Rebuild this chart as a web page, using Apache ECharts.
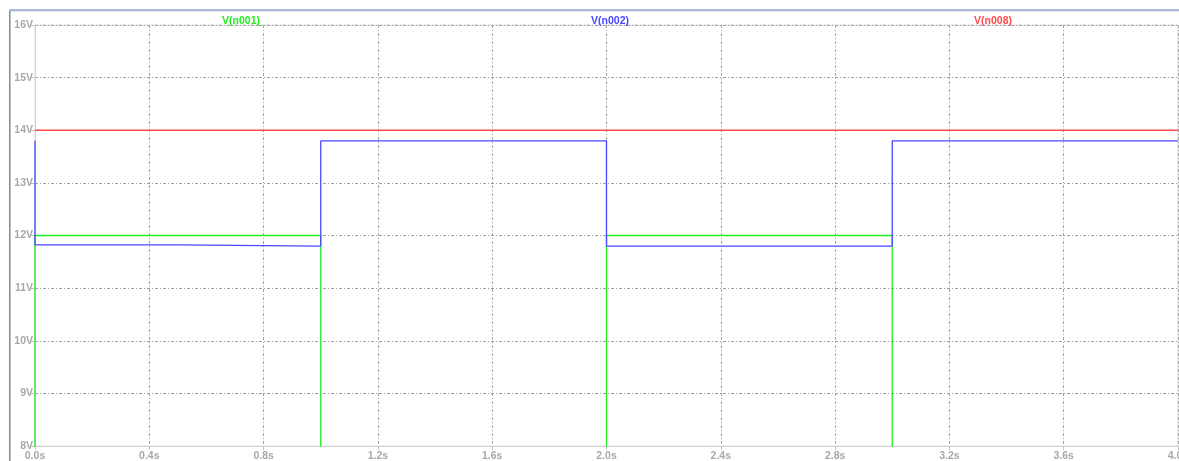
<!DOCTYPE html>
<html>
<head>
<meta charset="utf-8">
<script src="https://cdn.jsdelivr.net/npm/echarts@6/dist/echarts.min.js"></script>
<style>
html,body{margin:0;padding:0;background:#fff;}
#c{width:1179px;height:461px;}
</style>
</head>
<body>
<div id="c"></div>
<script>
// Data
const seriesNames = ['V(n001)', 'V(n002)', 'V(n008)'];
const seriesColors = ['#22ee22', '#4848ff', '#ff4a4a'];
// [time (s), voltage (V)]
const vN001 = [[0, 0], [0, 12], [1, 12], [1, 0], [2, 0], [2, 12], [3, 12], [3, 0], [4, 0]];
const vN002 = [[0, 13.8], [0, 11.82], [0.5, 11.82], [0.5, 11.8], [1, 11.8], [1, 13.8], [2, 13.8], [2, 11.8], [3, 11.8], [3, 13.8], [4, 13.8]];
const vN008 = [[0, 14], [4, 14]];
const xTicks = [0, 0.4, 0.8, 1.2, 1.6, 2.0, 2.4, 2.8, 3.2, 3.6, 4.0];
const yTicks = [8, 9, 10, 11, 12, 13, 14, 15, 16];
const titleCenters = [236, 605, 988];

const chart = echarts.init(document.getElementById('c'), null, {renderer: 'canvas'});
const labelStyle = {color: '#a8a8a8', fontFamily: 'Liberation Sans, Arial', fontSize: 10.5, fontWeight: 'bold'};
const gridLine = {show: true, lineStyle: {color: '#a0a0a0', type: [3, 2, 1, 2], width: 1}};

chart.setOption({
  animation: false,
  backgroundColor: '#fff',
  title: seriesNames.map((n, i) => ({
    text: n,
    left: titleCenters[i],
    top: 11,
    textAlign: 'center',
    textStyle: {color: seriesColors[i], fontSize: 10.5, fontWeight: 'bold', fontFamily: 'Liberation Sans, Arial'}
  })),
  grid: {left: 35, right: 1, top: 25, bottom: 15, show: true, borderColor: '#dcdcdc', borderWidth: 1,
         containLabel: false, outerBoundsMode: 'none'},
  xAxis: {
    type: 'value', min: 0, max: 4, interval: 0.4,
    axisLine: {show: true, onZero: false, lineStyle: {color: '#d4d4d4'}},
    axisTick: {show: true, length: 4, inside: false, lineStyle: {color: '#c8c8c8'}},
    axisLabel: Object.assign({margin: 5, hideOverlap: false, formatter: v => {
      const t = xTicks.find(x => Math.abs(x - v) < 1e-6);
      return (t !== undefined ? t : v).toFixed(1) + 's';
    }}, labelStyle),
    splitLine: gridLine
  },
  yAxis: {
    type: 'value', min: 8, max: 16, interval: 1,
    axisLine: {show: true, onZero: false, lineStyle: {color: '#d4d4d4'}},
    axisTick: {show: true, length: 5, lineStyle: {color: '#c0c0c0'}},
    axisLabel: Object.assign({margin: 2, formatter: v => (yTicks.includes(v) ? v : v) + 'V'}, labelStyle),
    splitLine: gridLine
  },
  graphic: [
    {type: 'rect', shape: {x: 9, y: 9, width: 1170, height: 2}, style: {fill: '#a9bbd2'}, z: 100},
    {type: 'rect', shape: {x: 9, y: 11, width: 1170, height: 1}, style: {fill: '#dde4ee'}, z: 100},
    {type: 'rect', shape: {x: 9, y: 11, width: 1.5, height: 450}, style: {fill: '#8a8a8a'}, z: 100}
  ],
  series: [
    {name: seriesNames[0], type: 'line', data: vN001, symbol: 'none', clip: true, lineStyle: {color: seriesColors[0], width: 1.3}, z: 3},
    {name: seriesNames[1], type: 'line', data: vN002, symbol: 'none', clip: true, lineStyle: {color: seriesColors[1], width: 1.3}, z: 4},
    {name: seriesNames[2], type: 'line', data: vN008, symbol: 'none', clip: true, lineStyle: {color: seriesColors[2], width: 1.3}, z: 2}
  ]
});
</script>
</body>
</html>
